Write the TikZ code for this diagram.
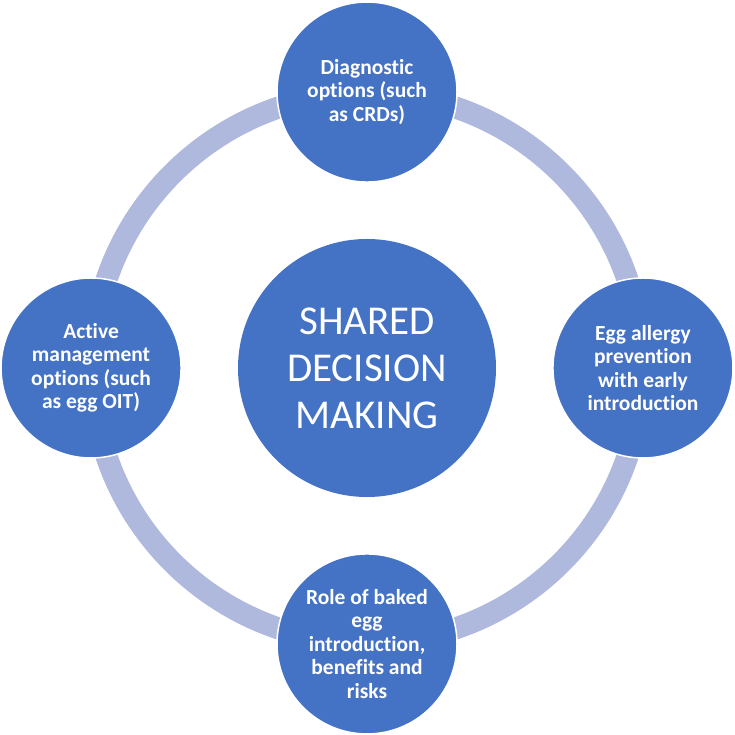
\documentclass[tikz,border=0pt]{standalone}
\usepackage{fontspec}
\setmainfont[Ligatures=NoCommon]{Carlito}
\usetikzlibrary{positioning}
\definecolor{diskblue}{RGB}{68,114,196}
\definecolor{ringblue}{RGB}{174,185,221}

\begin{document}
\begin{tikzpicture}[x=1pt,y=1pt,node distance=56pt,
  hub/.style={circle,fill=diskblue,text=white,minimum size=258pt,inner sep=0pt,
    align=center,font=\fontsize{41}{47}\selectfont},
  topic/.style={circle,fill=diskblue,draw=white,line width=1.5pt,text=white,
    minimum size=180pt,inner sep=0pt,align=center,
    font=\bfseries\fontsize{21.5}{23.5}\selectfont}]
  \useasboundingbox (0,0) rectangle (735,735);
  % ring behind everything
  \draw[ringblue,line width=22pt] (367,367) circle (275);
  \node[hub] (sdm) at (367,367) {SHARED\\DECISION\\MAKING};
  \node[topic,above=of sdm] (diag) {Diagnostic\\options (such\\as CRDs)};
  \node[topic,right=of sdm] (prev) {Egg allergy\\prevention\\with early\\introduction};
  \node[topic,below=of sdm] (baked) {Role of baked\\egg\\introduction,\\benefits and\\risks};
  \node[topic,left=of sdm] (oit) {Active\\management\\options (such\\as egg OIT)};
\end{tikzpicture}
\end{document}
